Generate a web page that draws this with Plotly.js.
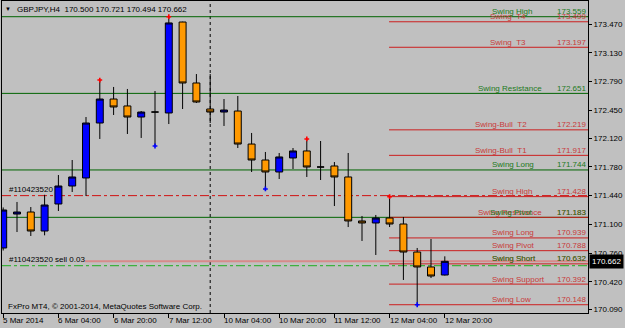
<!DOCTYPE html>
<html><head><meta charset="utf-8">
<script src="https://cdn.plot.ly/plotly-3.0.1.min.js"></script>
<style>html,body{margin:0;padding:0;background:#C0C0C0;overflow:hidden}#chart{width:625px;height:328px}</style>
</head><body><div id="chart"></div>
<script>
// ---------- DATA ----------
const tickIdx  = [0, 4, 8, 12, 16, 20, 24, 28, 32];
const tickText = ['5 Mar 2014','6 Mar 04:00','6 Mar 20:00','7 Mar 12:00','10 Mar 04:00','10 Mar 20:00','11 Mar 12:00','12 Mar 04:00','12 Mar 20:00'];

const openP  = [170.820,171.222,171.246,171.021,171.341,171.554,171.649,172.300,172.584,172.502,172.371,172.430,172.419,173.496,172.774,172.466,172.430,172.442,172.051,171.862,171.720,171.886,171.969,171.779,171.791,171.661,171.140,171.116,171.175,171.104,170.772,170.595,170.500];
const highP  = [171.300,171.365,171.305,171.450,171.684,171.862,172.371,172.809,172.727,172.703,172.442,172.679,173.559,173.500,172.880,172.880,172.584,172.620,172.182,171.957,171.945,172.004,172.111,172.087,171.838,171.945,171.199,171.211,171.428,171.187,170.820,170.926,170.721];
const lowP   = [170.790,171.009,170.962,170.970,171.258,171.483,171.436,172.111,172.395,172.170,172.123,172.028,172.288,172.466,172.537,172.300,172.265,172.004,171.720,171.519,171.637,171.755,171.661,171.625,171.317,171.068,170.903,170.737,171.068,170.441,170.148,170.464,170.494];
const closeP = [171.270,171.246,171.021,171.329,171.554,171.661,172.300,172.584,172.490,172.371,172.430,172.430,173.485,172.774,172.549,172.430,172.454,172.051,171.862,171.720,171.898,171.969,171.779,171.779,171.661,171.140,171.116,171.175,171.104,170.772,170.595,170.488,170.662];

const fractalUpIdx   = [7, 12, 22, 28];
const fractalDownIdx = [11, 19, 30];

const yTicks = [173.470,173.130,172.790,172.450,172.120,171.780,171.440,171.100,170.760,170.420,170.090];

const greenNames  = ['Swing High','Swing Resistance','Swing Long','Swing Pivot','Swing Short'];
const greenValues = [173.559, 172.651, 171.744, 171.183, 170.632];
const greenHasLine = [true, true, true, true, false];

const redNames  = ['Swing\u00a0\u00a0T4','Swing\u00a0\u00a0T3','Swing-Bull\u00a0\u00a0T2','Swing-Bull\u00a0\u00a0T1','Swing High','Swing Resistance','Swing Long','Swing Pivot','Swing Short','Swing Support','Swing Low'];
const redValues = [173.499, 173.197, 172.219, 171.917, 171.428, 171.183, 170.939, 170.788, 170.632, 170.392, 170.148];
const redStartIdx = 28;

const symbolText = 'GBPJPY,H4  170.500 170.721 170.494 170.662';
const orderSL   = 171.440;
const orderOpen = 170.610;
const orderId   = '#110423520';
const orderText = '#110423520 sell 0.03';
const bidPrice  = 170.662;
const separatorIdx = 15;
const copyrightText = 'FxPro MT4, \u00a9 2001-2014, MetaQuotes Software Corp.';

// ---------- LAYOUT ----------
const W = 625, H = 328, ML = 2, MR = 37, MT = 1, MB = 15;
const PW = W - ML - MR;
const px = v => (v - ML) / PW;
const FONT = 'Liberation Sans, Arial, sans-serif';
const xRange = [-0.087, 42.377];
const yRange = [170.050, 173.745];
const GREEN = '#006400', GREEN_TXT = '#1c7a1c';
const RED = '#cc1f1f', RED_TXT = '#c83a3a';

const greenLabelPx = [492, 478, 492, 490, 492];
const redLabelPx   = [490, 490, 475, 475, 492, 478, 492, 492, 492, 492, 492];

const idx = openP.map((_, i) => i);

const traces = [
  {
    type: 'candlestick', x: idx, open: openP, high: highP, low: lowP, close: closeP,
    increasing: { line: { color: '#000', width: 1 }, fillcolor: '#0000FF' },
    decreasing: { line: { color: '#000', width: 1 }, fillcolor: '#FF9900' },
    whiskerwidth: 0, hoverinfo: 'skip', showlegend: false
  },
  {
    type: 'scatter', mode: 'markers', x: fractalUpIdx, y: fractalUpIdx.map(i => highP[i]),
    marker: { symbol: 'cross', size: 4, color: '#FF0000' }, showlegend: false, hoverinfo: 'skip'
  },
  {
    type: 'scatter', mode: 'markers', x: fractalDownIdx, y: fractalDownIdx.map(i => lowP[i]),
    marker: { symbol: 'cross', size: 4, color: '#0000FF' }, showlegend: false, hoverinfo: 'skip'
  }
];

const shapes = [];
shapes.push({ type: 'line', xref: 'x', yref: 'paper', x0: separatorIdx, x1: separatorIdx, y0: 0, y1: 1,
  line: { color: '#000', width: 1, dash: 'dot' }, layer: 'below' });
shapes.push({ type: 'line', xref: 'paper', yref: 'y', x0: 0, x1: 1, y0: orderSL, y1: orderSL,
  line: { color: '#d01010', width: 1, dash: 'dashdot' }, layer: 'below' });
shapes.push({ type: 'line', xref: 'paper', yref: 'y', x0: 0, x1: 1, y0: orderOpen, y1: orderOpen,
  line: { color: '#1fae1f', width: 1, dash: 'dashdot' }, layer: 'below' });
shapes.push({ type: 'line', xref: 'paper', yref: 'y', x0: px(85), x1: 1, y0: bidPrice, y1: bidPrice,
  line: { color: '#d88a8a', width: 2 }, layer: 'below' });
greenValues.forEach((v, i) => {
  if (greenHasLine[i]) shapes.push({ type: 'line', xref: 'paper', yref: 'y', x0: 0, x1: 1, y0: v, y1: v,
    line: { color: GREEN, width: 1 }, layer: 'below' });
});
redValues.forEach(v => {
  shapes.push({ type: 'line', xref: 'x', yref: 'y', x0: redStartIdx - 0.04, x1: xRange[1], y0: v, y1: v,
    line: { color: RED, width: 1 }, layer: 'below' });
});

const annotations = [];
const txt = (text, x, xref, y, yref, color, xanchor, yanchor, xshift, yshift, extra) =>
  Object.assign({ text, x, xref, y, yref, xanchor, yanchor, xshift, yshift, showarrow: false,
    font: { family: FONT, size: 8, color } }, extra || {});

redNames.forEach((n, i) => {
  annotations.push(txt(n, px(redLabelPx[i]) , 'paper', redValues[i], 'y', RED_TXT, 'left', 'middle', -2, 5));
  annotations.push(txt(redValues[i].toFixed(3), px(588), 'paper', redValues[i], 'y', RED_TXT, 'right', 'middle', 0, 5));
});
greenNames.forEach((n, i) => {
  annotations.push(txt(n, px(greenLabelPx[i]), 'paper', greenValues[i], 'y', GREEN_TXT, 'left', 'middle', -2, 5));
  annotations.push(txt(greenValues[i].toFixed(3), px(588), 'paper', greenValues[i], 'y', GREEN_TXT, 'right', 'middle', 0, 5));
});
tickIdx.forEach((t, i) => {
  annotations.push(txt(tickText[i], t, 'x', 0, 'paper', '#000', 'left', 'top', -2, -1));
});
annotations.push(txt('\u25BC', px(8), 'paper', 1, 'paper', '#000', 'center', 'middle', 0, -8, { font: { family: FONT, size: 6, color: '#000' } }));
annotations.push(txt(symbolText, px(15), 'paper', 1, 'paper', '#000', 'left', 'middle', 0, -8));
annotations.push(txt(copyrightText, px(6), 'paper', 0, 'paper', '#000', 'left', 'middle', 0, 7));
annotations.push(txt(orderId, px(7), 'paper', orderSL, 'y', '#000', 'left', 'middle', 0, 6));
annotations.push(txt(orderText, px(7), 'paper', orderOpen, 'y', '#000', 'left', 'middle', 0, 6));
annotations.push(txt(bidPrice.toFixed(3), 1, 'paper', bidPrice, 'y', '#fff', 'left', 'middle', 1, 0,
  { bgcolor: '#000', borderpad: 2 }));

const layout = {
  width: W, height: H, autosize: false,
  margin: { l: ML, r: MR, t: MT, b: MB, pad: 0 },
  paper_bgcolor: '#C0C0C0', plot_bgcolor: '#C0C0C0',
  showlegend: false, boxgap: 0.28,
  font: { family: FONT, size: 8, color: '#000' },
  xaxis: {
    range: xRange, showgrid: false, zeroline: false, showline: true, mirror: true,
    linecolor: '#000', linewidth: 1, ticks: 'outside', ticklen: 4, tickcolor: '#000',
    tickmode: 'array', tickvals: tickIdx, showticklabels: false,
    rangeslider: { visible: false }, fixedrange: true
  },
  yaxis: {
    range: yRange, side: 'right', showgrid: false, zeroline: false, showline: true, mirror: true,
    linecolor: '#000', linewidth: 1, ticks: 'outside', ticklen: 3, tickcolor: '#000',
    tickmode: 'array', tickvals: yTicks, ticktext: yTicks.map(v => v.toFixed(3)),
    tickfont: { family: FONT, size: 8, color: '#000' }, fixedrange: true
  },
  shapes, annotations
};

Plotly.newPlot('chart', traces, layout, { staticPlot: true, displayModeBar: false });
</script></body></html>
